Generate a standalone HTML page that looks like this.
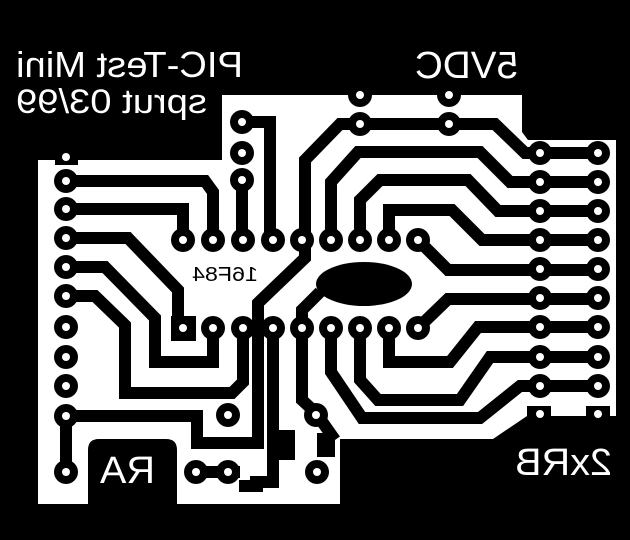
<!DOCTYPE html>
<html><head><style>html,body{margin:0;padding:0;background:#000}svg{display:block}</style></head><body>
<svg width="630" height="540" viewBox="0 0 630 540" xmlns="http://www.w3.org/2000/svg">
<rect width="630" height="540" fill="#000"/>
<path d="M222,95 L522,95 L522,132 L528,140 L616,140 L616,416 L527,416 L493,439 L340,439 L340,504 L177,504 L177,450 Q177,439 166,439 L99,439 Q88,439 88,450 L88,504 L38,504 L38,160 L222,160 Z" fill="#fff"/>
<g fill="none" stroke="#000" stroke-width="12" stroke-linejoin="miter">
<path d="M66,181 H205 L213,192 V240"/>
<path d="M66,209 H183 V240"/>
<path d="M66,238 H128 L178,290 V328"/>
<path d="M66,267 H105 L155,318 V362 H213 V328"/>
<path d="M66,296 H95 L125,325 V393 H232 L243,382 V328"/>
<path d="M66,470 V416 H197 V443 H258 V303 L305,258 V160 L340,124 H449 H495 L525,153 H598"/>
<path d="M242,122 H270 V240"/>
<path d="M242,180 V240"/>
<path d="M196,472 H240"/>
<path d="M273,328 V482 H250"/>
<path d="M302,328 V310 L320,292"/>
<path d="M302,328 V400 L316,413 L335,440"/>
<path d="M331,240 V182 L358,152 H480 L510,182 H598"/>
<path d="M360,240 V200 L380,180 H468 L498,211 H598"/>
<path d="M389,240 V210 H452 L482,240 H598"/>
<path d="M418,240 L448,270 H598"/>
<path d="M418,328 L448,299 H598"/>
<path d="M389,328 V362 H450 L478,327 H598"/>
<path d="M360,328 V380 L378,400 H460 L490,357 H598"/>
<path d="M331,328 V372 L362,418 H480 L520,386 H598"/>
</g>
<ellipse cx="364" cy="284" rx="48" ry="22" fill="#000"/>
<rect x="252" y="352" width="12" height="96" fill="#000"/>
<rect x="267" y="430" width="28" height="30" fill="#000"/>
<rect x="239" y="480" width="24" height="12" fill="#000"/>
<rect x="317" y="433" width="18" height="24" fill="#000"/>
<rect x="55" y="150" width="23" height="15" fill="#000"/>
<rect x="527" y="406" width="24" height="14" fill="#000"/>
<rect x="586" y="406" width="24" height="14" fill="#000"/>
<rect x="171" y="316" width="25" height="25" fill="#000"/>
<g fill="#000">
<circle cx="66" cy="181" r="12"/><circle cx="66" cy="209" r="12"/><circle cx="66" cy="238" r="12"/><circle cx="66" cy="267" r="12"/><circle cx="66" cy="296" r="12"/><circle cx="66" cy="327" r="12"/><circle cx="66" cy="357" r="12"/><circle cx="66" cy="386" r="12"/><circle cx="66" cy="416" r="12"/><circle cx="66" cy="472" r="12"/>
<circle cx="242" cy="122" r="12"/><circle cx="242" cy="153" r="12"/><circle cx="242" cy="180" r="12"/>
<circle cx="360" cy="95" r="12"/><circle cx="449" cy="95" r="12"/><circle cx="360" cy="124" r="12"/><circle cx="449" cy="124" r="12"/>
<circle cx="183" cy="240" r="12"/><circle cx="213" cy="240" r="12"/><circle cx="243" cy="240" r="12"/><circle cx="273" cy="240" r="12"/><circle cx="302" cy="240" r="12"/><circle cx="331" cy="240" r="12"/><circle cx="360" cy="240" r="12"/><circle cx="389" cy="240" r="12"/><circle cx="418" cy="240" r="12"/>
<circle cx="213" cy="328" r="12"/><circle cx="243" cy="328" r="12"/><circle cx="273" cy="328" r="12"/><circle cx="302" cy="328" r="12"/><circle cx="331" cy="328" r="12"/><circle cx="360" cy="328" r="12"/><circle cx="389" cy="328" r="12"/><circle cx="418" cy="328" r="12"/>
<circle cx="540" cy="153" r="12"/><circle cx="540" cy="182" r="12"/><circle cx="540" cy="211" r="12"/><circle cx="540" cy="240" r="12"/><circle cx="540" cy="269" r="12"/><circle cx="540" cy="298" r="12"/><circle cx="540" cy="327" r="12"/><circle cx="540" cy="357" r="12"/><circle cx="540" cy="386" r="12"/>
<circle cx="598" cy="153" r="12"/><circle cx="598" cy="182" r="12"/><circle cx="598" cy="211" r="12"/><circle cx="598" cy="240" r="12"/><circle cx="598" cy="269" r="12"/><circle cx="598" cy="298" r="12"/><circle cx="598" cy="327" r="12"/><circle cx="598" cy="357" r="12"/><circle cx="598" cy="386" r="12"/>
<circle cx="228" cy="415" r="12"/><circle cx="316" cy="415" r="12"/>
<circle cx="196" cy="472" r="12"/><circle cx="228" cy="472" r="12"/><circle cx="317" cy="472" r="12"/>
</g>
<g fill="#fff">
<circle cx="66" cy="157" r="4"/>
<circle cx="66" cy="181" r="4"/><circle cx="66" cy="209" r="4"/><circle cx="66" cy="238" r="4"/><circle cx="66" cy="267" r="4"/><circle cx="66" cy="296" r="4"/><circle cx="66" cy="327" r="4"/><circle cx="66" cy="357" r="4"/><circle cx="66" cy="386" r="4"/><circle cx="66" cy="416" r="4"/><circle cx="66" cy="472" r="4"/>
<circle cx="242" cy="122" r="4"/><circle cx="242" cy="153" r="4"/><circle cx="242" cy="180" r="4"/>
<circle cx="360" cy="95" r="4"/><circle cx="449" cy="95" r="4"/><circle cx="360" cy="124" r="4"/><circle cx="449" cy="124" r="4"/>
<circle cx="183" cy="240" r="4"/><circle cx="213" cy="240" r="4"/><circle cx="243" cy="240" r="4"/><circle cx="273" cy="240" r="4"/><circle cx="302" cy="240" r="4"/><circle cx="331" cy="240" r="4"/><circle cx="360" cy="240" r="4"/><circle cx="389" cy="240" r="4"/><circle cx="418" cy="240" r="4"/>
<circle cx="183" cy="328" r="4"/><circle cx="213" cy="328" r="4"/><circle cx="243" cy="328" r="4"/><circle cx="273" cy="328" r="4"/><circle cx="302" cy="328" r="4"/><circle cx="331" cy="328" r="4"/><circle cx="360" cy="328" r="4"/><circle cx="389" cy="328" r="4"/><circle cx="418" cy="328" r="4"/>
<circle cx="540" cy="153" r="4"/><circle cx="540" cy="182" r="4"/><circle cx="540" cy="211" r="4"/><circle cx="540" cy="240" r="4"/><circle cx="540" cy="269" r="4"/><circle cx="540" cy="298" r="4"/><circle cx="540" cy="327" r="4"/><circle cx="540" cy="357" r="4"/><circle cx="540" cy="386" r="4"/><circle cx="540" cy="414" r="4"/>
<circle cx="598" cy="153" r="4"/><circle cx="598" cy="182" r="4"/><circle cx="598" cy="211" r="4"/><circle cx="598" cy="240" r="4"/><circle cx="598" cy="269" r="4"/><circle cx="598" cy="298" r="4"/><circle cx="598" cy="327" r="4"/><circle cx="598" cy="357" r="4"/><circle cx="598" cy="386" r="4"/><circle cx="598" cy="414" r="4"/>
<circle cx="228" cy="415" r="4"/><circle cx="316" cy="415" r="4"/>
<circle cx="196" cy="472" r="4"/><circle cx="228" cy="472" r="4"/><circle cx="317" cy="472" r="4"/>
</g>
<g font-family="Liberation Sans, sans-serif">
<text transform="translate(243,77) scale(-1,1)" font-size="36" fill="#fff" textLength="227" lengthAdjust="spacingAndGlyphs">PIC-Test Mini</text>
<text transform="translate(207,113) scale(-1,1)" font-size="34" fill="#fff" textLength="191" lengthAdjust="spacingAndGlyphs">sprut 03/99</text>
<text transform="translate(518,78) scale(-1,1)" font-size="38" fill="#fff" textLength="103" lengthAdjust="spacingAndGlyphs">5VDC</text>
<text transform="translate(258,281) scale(-1,1)" font-size="20" fill="#000" textLength="66" lengthAdjust="spacingAndGlyphs">16F84</text>
<text transform="translate(155,483) scale(-1,1)" font-size="38" fill="#fff" textLength="55" lengthAdjust="spacingAndGlyphs">RA</text>
<text transform="translate(612,475) scale(-1,1)" font-size="38" fill="#fff" textLength="97" lengthAdjust="spacingAndGlyphs">2xRB</text>
</g>
</svg>
</body></html>
